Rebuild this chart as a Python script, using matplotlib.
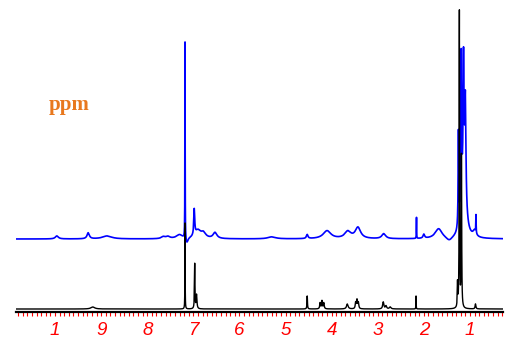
import numpy as np
import matplotlib
matplotlib.use("Agg")
import matplotlib.pyplot as plt
from matplotlib.ticker import MultipleLocator

# tick positions and labels as printed on the axis
tick_ppm = [10, 9, 8, 7, 6, 5, 4, 3, 2, 1]
tick_labels = ["1", "9", "8", "7", "6", "5", "4", "3", "2", "1"]

# lower (black) spectrum: peak centre (ppm), height, half width (ppm)
black_ppm = [9.18, 7.18, 6.97, 6.93, 4.53, 4.25, 4.21, 4.17, 3.66, 3.48, 3.45,
             3.42, 2.88, 2.82, 2.73, 2.17, 1.27, 1.23, 1.185, 0.88]
black_height = [2, 86, 45, 14, 13, 6, 8, 6, 5, 6, 9,
                6, 7, 3, 2, 13, 24, 296, 152, 5]
black_width = [0.05, 0.003, 0.006, 0.01, 0.006, 0.01, 0.01, 0.01, 0.02, 0.01, 0.012,
               0.01, 0.015, 0.015, 0.02, 0.003, 0.006, 0.005, 0.006, 0.01]
black_base = 3

# upper (blue) spectrum
blue_ppm = [9.96, 9.28, 8.87, 7.65, 7.55, 7.30, 7.18, 7.14, 6.98, 6.90, 6.78, 6.53,
            5.3, 4.53, 4.10, 3.65, 3.43, 2.87, 2.16, 2.00, 1.68, 1.45,
            1.25, 1.19, 1.14, 1.10, 1.13, 0.87, 0.90]
blue_height = [3, 6, 3, 2, 2, 4, 197, -6, 26, 8, 5, 6,
               2, 4, 8, 7, 11, 5, 21, 4, 10, -4,
               95, 160, 125, 100, 50, 18, 6]
blue_width = [0.04, 0.03, 0.12, 0.05, 0.05, 0.08, 0.003, 0.03, 0.012, 0.08, 0.06, 0.05,
              0.1, 0.02, 0.1, 0.08, 0.07, 0.05, 0.003, 0.02, 0.09, 0.08,
              0.008, 0.011, 0.011, 0.014, 0.05, 0.004, 0.04]
blue_base = 73


def spectrum(x, centres, heights, widths, base):
    y = np.full_like(x, float(base))
    for c, h, w in zip(centres, heights, widths):
        y += h / (1 + ((x - c) / w) ** 2)
    return y


x = np.linspace(0.28, 10.85, 40000)
y_black = spectrum(x, black_ppm, black_height, black_width, black_base)
y_blue = spectrum(x, blue_ppm, blue_height, blue_width, blue_base)

fig = plt.figure(figsize=(5.05, 3.4), dpi=100)
ax = fig.add_axes([16 / 505, 28 / 340, 487 / 505, 312 / 340])
ax.plot(x, y_blue, color="#0000ff", lw=1.2)
ax.plot(x, y_black, color="black", lw=1.0)

ax.set_xlim(10.846, 0.284)
ax.set_ylim(0, 312)

for s in ["top", "left", "right"]:
    ax.spines[s].set_visible(False)
ax.spines["bottom"].set_linewidth(1.6)
ax.set_yticks([])

ax.set_xticks(tick_ppm)
ax.set_xticklabels(tick_labels, color="red", fontsize=13.5, style="italic",
                   family="Liberation Sans")
ax.xaxis.set_minor_locator(MultipleLocator(0.1))
ax.tick_params(axis="x", which="both", direction="out", color="red",
               length=3, width=0.8, pad=4)

fig.text(49 / 505, 1 - 110 / 340, "ppm", color="#e8781e", fontsize=15,
         fontweight="bold", family="Liberation Serif", va="baseline")

fig.savefig("out.png", dpi=100)
